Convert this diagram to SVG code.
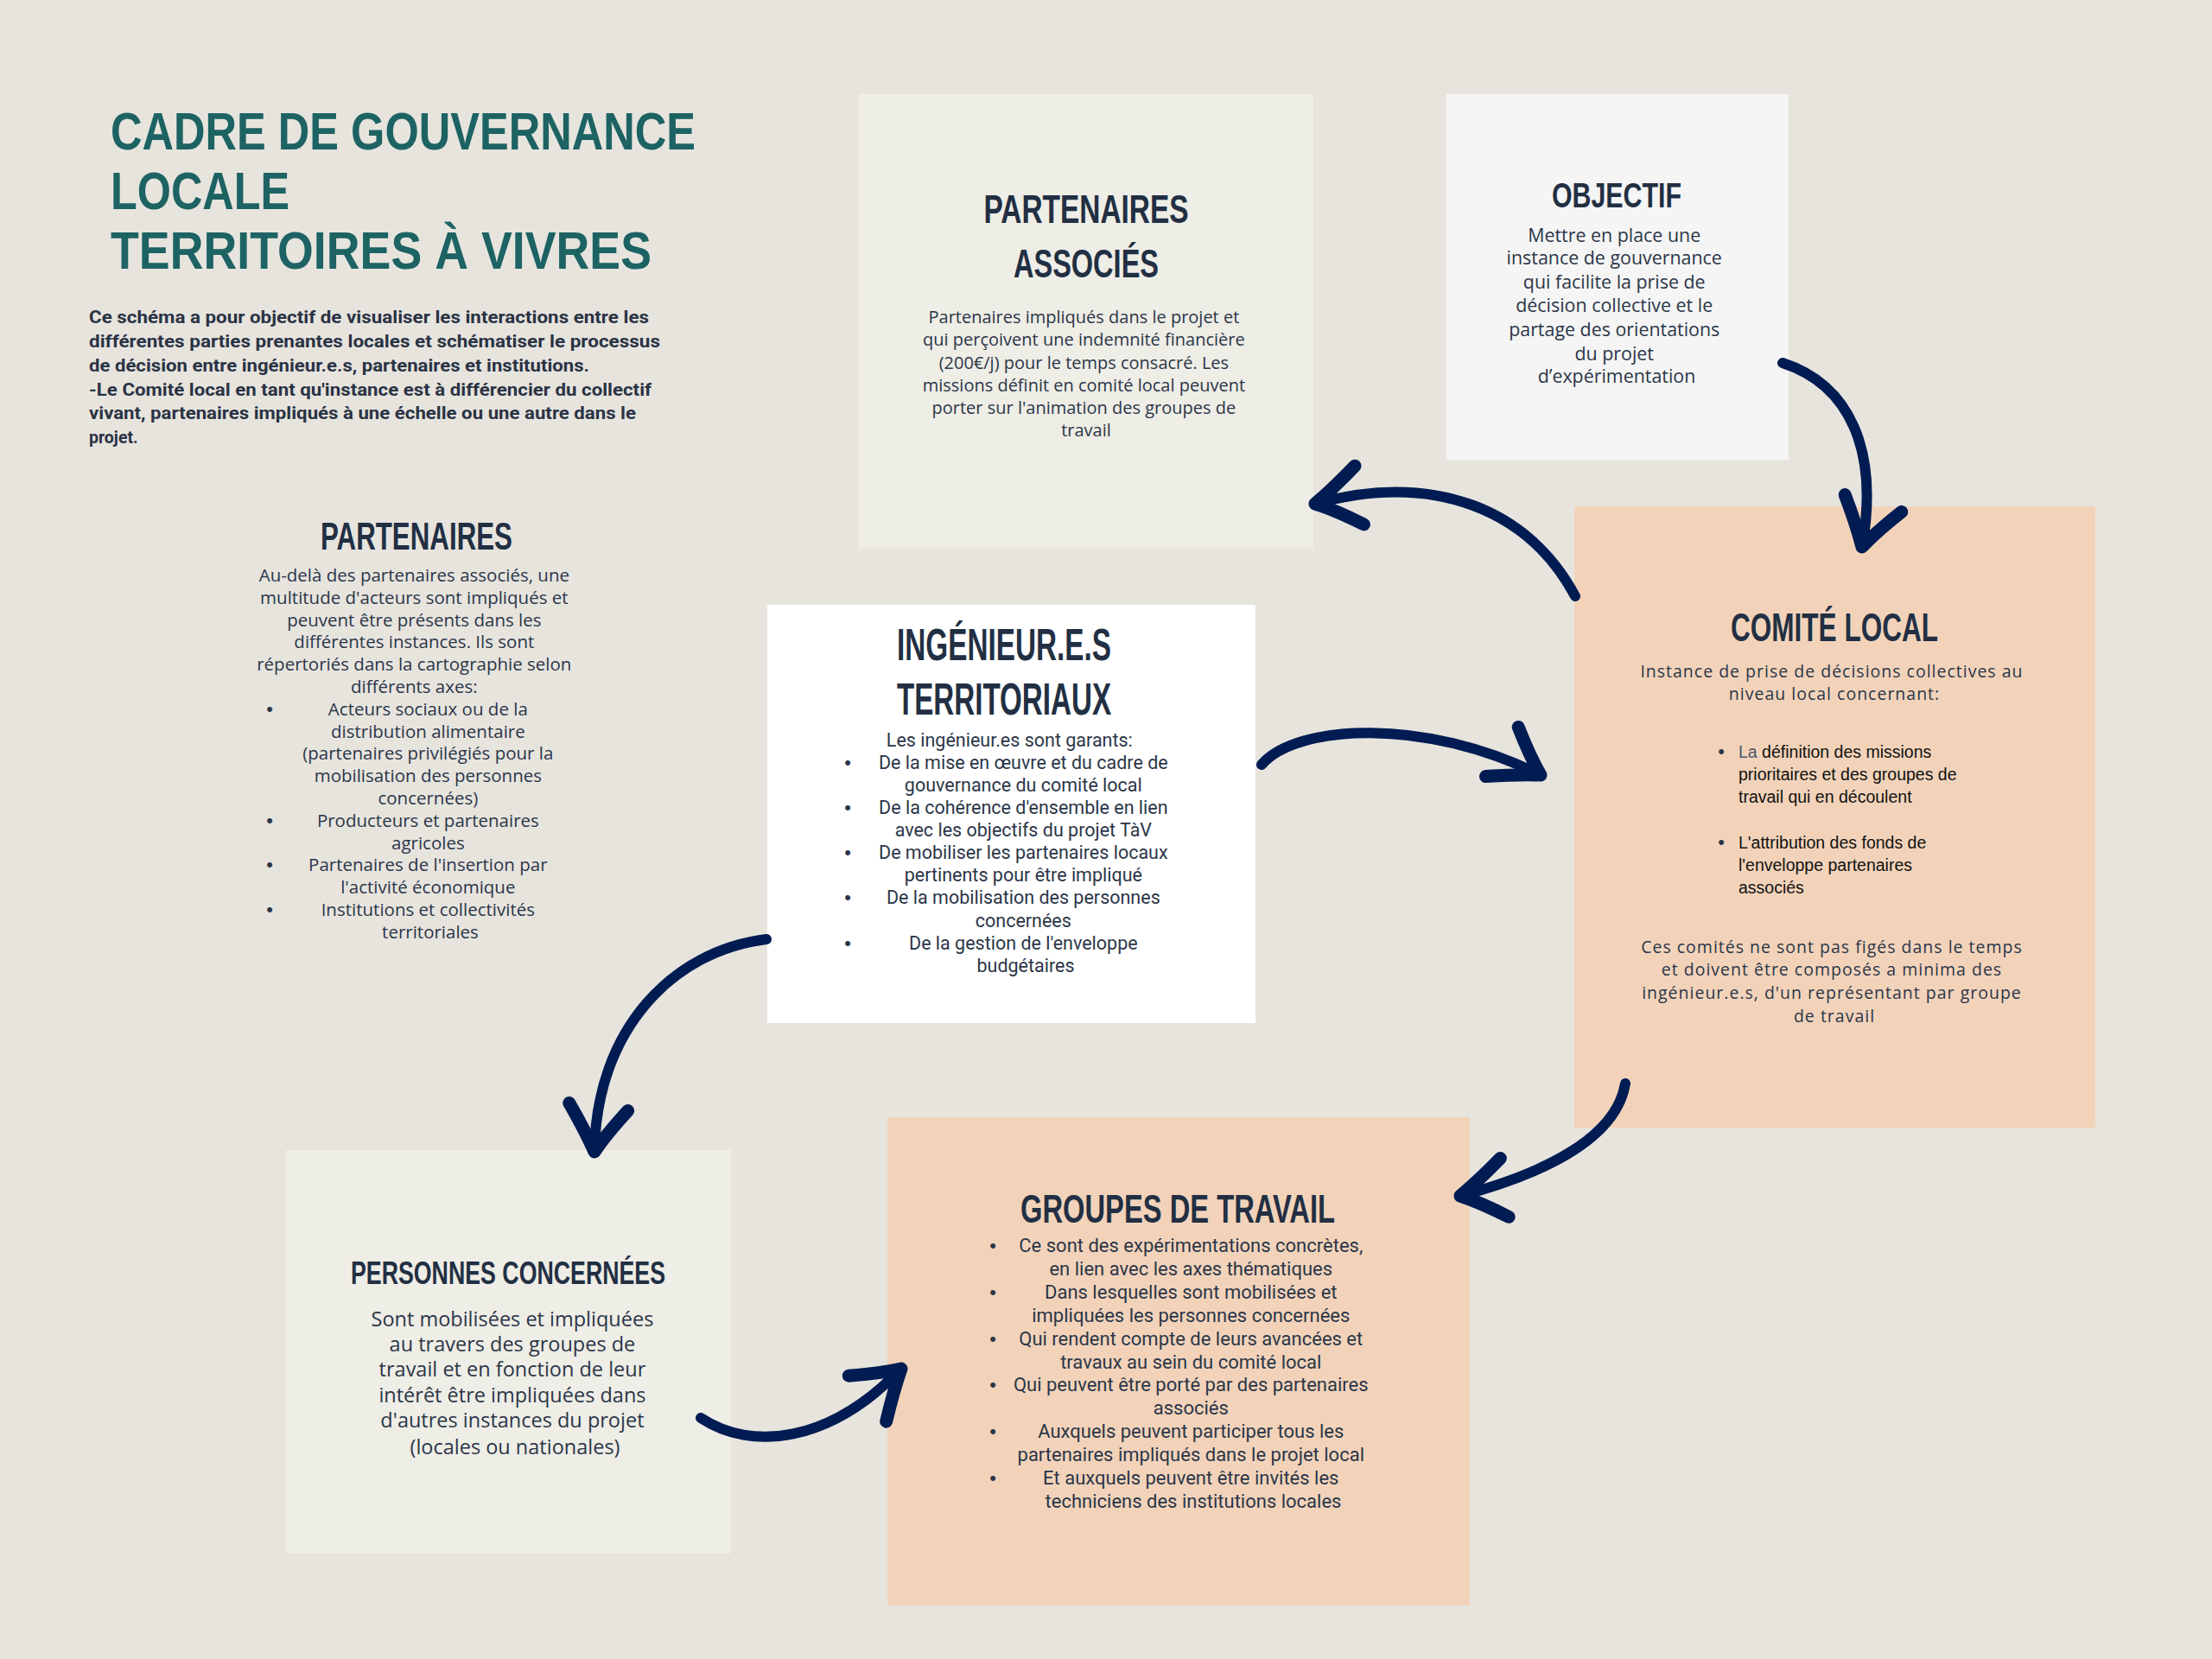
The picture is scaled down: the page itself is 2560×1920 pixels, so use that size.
<svg xmlns="http://www.w3.org/2000/svg" width="2560" height="1920" viewBox="0 0 2560 1920">
<defs>
<style>
.h{font-family:"Liberation Sans",Arial,sans-serif;font-weight:700;fill:#222f43;text-anchor:middle}
.t{font-family:"Liberation Sans",Arial,sans-serif;font-weight:700;fill:#1d6363;font-size:62px}
.intro{font-family:Roboto,"Liberation Sans",sans-serif;font-weight:700;font-size:19.5px;fill:#2a3344}
.b{font-family:"Open Sans","Noto Sans",sans-serif;fill:#2b3648;text-anchor:middle}
.r{font-family:Roboto,"Liberation Sans",sans-serif;fill:#2b3648;text-anchor:middle}
.a{font-family:"Liberation Sans",Arial,sans-serif;fill:#111111;font-size:19.5px}
.dot{font-family:"Liberation Sans",Arial,sans-serif;fill:#2b3648;font-size:22px;text-anchor:middle}
.arr{fill:none;stroke:#001c52;stroke-width:12;stroke-linecap:round}
</style>
<marker id="head" markerUnits="userSpaceOnUse" viewBox="-90 -70 110 140" refX="0" refY="0" markerWidth="110" markerHeight="140" orient="auto" overflow="visible">
<path d="M-48,-38 Q-20,-13 0,0 Q-24,11 -56,30" fill="none" stroke="#001c52" stroke-width="15" stroke-linecap="round" stroke-linejoin="round"/>
</marker>
</defs>
<rect x="0" y="0" width="2560" height="1920" fill="#e7e4de"/>

<g id="title">
<text class="t" x="128" y="173" textLength="677" lengthAdjust="spacingAndGlyphs">CADRE DE GOUVERNANCE</text>
<text class="t" x="128" y="242" textLength="207" lengthAdjust="spacingAndGlyphs">LOCALE</text>
<text class="t" x="128" y="311" textLength="626" lengthAdjust="spacingAndGlyphs">TERRITOIRES À VIVRES</text>
</g>

<g id="intro">
<text class="intro" x="103" y="374" textLength="648" lengthAdjust="spacingAndGlyphs">Ce schéma a pour objectif de visualiser les interactions entre les</text>
<text class="intro" x="103" y="402" textLength="661" lengthAdjust="spacingAndGlyphs">différentes parties prenantes locales et schématiser le processus</text>
<text class="intro" x="103" y="430" textLength="579" lengthAdjust="spacingAndGlyphs">de décision entre ingénieur.e.s, partenaires et institutions.</text>
<text class="intro" x="103" y="458" textLength="651" lengthAdjust="spacingAndGlyphs">-Le Comité local en tant qu'instance est à différencier du collectif</text>
<text class="intro" x="103" y="485" textLength="633" lengthAdjust="spacingAndGlyphs">vivant, partenaires impliqués à une échelle ou une autre dans le</text>
<text class="intro" x="103" y="513">projet.</text>
</g>

<g id="partenaires-associes">
<rect x="994" y="109" width="526" height="526" fill="#eeede6"/>
<text class="h" x="1257" y="258" font-size="46" textLength="237" lengthAdjust="spacingAndGlyphs">PARTENAIRES</text>
<text class="h" x="1257" y="321" font-size="46" textLength="168" lengthAdjust="spacingAndGlyphs">ASSOCIÉS</text>
<text class="b" font-size="20">
<tspan x="1257" y="374">Partenaires impliqués dans le projet et</tspan>
<tspan x="1257" y="400">qui perçoivent une indemnité financière</tspan>
<tspan x="1257" y="427">(200€/j) pour le temps consacré. Les</tspan>
<tspan x="1257" y="453">missions définit en comité local peuvent</tspan>
<tspan x="1257" y="479">porter sur l'animation des groupes de</tspan>
<tspan x="1257" y="505">travail</tspan>
</text>
</g>

<g id="objectif">
<rect x="1674" y="109" width="396" height="423" fill="#f5f5f5"/>
<text class="h" x="1871" y="240" font-size="40" textLength="150" lengthAdjust="spacingAndGlyphs">OBJECTIF</text>
<text class="b" font-size="21.4">
<tspan x="1871" y="280">Mettre en place une</tspan>
<tspan x="1871" y="306">instance de gouvernance</tspan>
<tspan x="1871" y="334">qui facilite la prise de</tspan>
<tspan x="1871" y="361">décision collective et le</tspan>
<tspan x="1871" y="389">partage des orientations</tspan>
<tspan x="1871" y="417">du projet</tspan>
<tspan x="1871" y="443">d’expérimentation</tspan>
</text>
</g>

<g id="comite-local">
<rect x="1822" y="586" width="603" height="719" fill="#f2d3ba"/>
<text class="h" x="2123" y="742" font-size="46" textLength="240" lengthAdjust="spacingAndGlyphs">COMITÉ LOCAL</text>
<text class="b" font-size="19.5" letter-spacing="1">
<tspan x="2123" y="784">Instance de prise de décisions collectives au</tspan>
<tspan x="2123" y="810">niveau local concernant:</tspan>
</text>
<text class="dot" x="1992" y="877">•</text>
<text class="a">
<tspan x="2012" y="877"><tspan fill="#4a5568">La</tspan> définition des missions</tspan>
<tspan x="2012" y="903">prioritaires et des groupes de</tspan>
<tspan x="2012" y="929">travail qui en découlent</tspan>
</text>
<text class="dot" x="1992" y="982">•</text>
<text class="a">
<tspan x="2012" y="982">L'attribution des fonds de</tspan>
<tspan x="2012" y="1008">l'enveloppe partenaires</tspan>
<tspan x="2012" y="1034">associés</tspan>
</text>
<text class="b" font-size="19.5" letter-spacing="1">
<tspan x="2123" y="1103">Ces comités ne sont pas figés dans le temps</tspan>
<tspan x="2123" y="1129">et  doivent être composés a minima des</tspan>
<tspan x="2123" y="1156">ingénieur.e.s, d'un représentant par groupe</tspan>
<tspan x="2123" y="1183">de travail</tspan>
</text>
</g>

<g id="partenaires">
<text class="h" x="482" y="636" font-size="44" textLength="222" lengthAdjust="spacingAndGlyphs">PARTENAIRES</text>
<text class="b" font-size="20.5">
<tspan x="482" y="673">Au-delà des partenaires associés, une</tspan>
<tspan x="482" y="699">multitude d'acteurs sont impliqués et</tspan>
<tspan x="482" y="725">peuvent être présents dans les</tspan>
<tspan x="482" y="750">différentes instances. Ils sont</tspan>
<tspan x="482" y="776">répertoriés dans la cartographie selon</tspan>
<tspan x="482" y="802">différents axes:</tspan>
<tspan x="498" y="828">Acteurs sociaux ou de la</tspan>
<tspan x="498" y="854">distribution alimentaire</tspan>
<tspan x="498" y="879">(partenaires privilégiés pour la</tspan>
<tspan x="498" y="905">mobilisation des personnes</tspan>
<tspan x="498" y="931">concernées)</tspan>
<tspan x="498" y="957">Producteurs et partenaires</tspan>
<tspan x="498" y="983">agricoles</tspan>
<tspan x="498" y="1008">Partenaires de l'insertion par</tspan>
<tspan x="498" y="1034">l'activité économique</tspan>
<tspan x="498" y="1060">Institutions et collectivités</tspan>
<tspan x="498" y="1086">territoriales</tspan>
</text>
<text class="dot" x="312" y="828">•</text>
<text class="dot" x="312" y="957">•</text>
<text class="dot" x="312" y="1008">•</text>
<text class="dot" x="312" y="1060">•</text>
</g>

<g id="ingenieurs">
<rect x="888" y="700" width="565" height="484" fill="#ffffff"/>
<text class="h" x="1162" y="764" font-size="52" textLength="248" lengthAdjust="spacingAndGlyphs">INGÉNIEUR.E.S</text>
<text class="h" x="1162" y="827" font-size="52" textLength="248" lengthAdjust="spacingAndGlyphs">TERRITORIAUX</text>
<text class="r" font-size="21.5">
<tspan x="1171" y="864">Les ingénieur.es sont garants:</tspan>
<tspan x="1187" y="890">De la mise en œuvre et du cadre de</tspan>
<tspan x="1187" y="916">gouvernance du comité local</tspan>
<tspan x="1187" y="942">De la cohérence d'ensemble en lien</tspan>
<tspan x="1187" y="968">avec les objectifs du projet TàV</tspan>
<tspan x="1187" y="994">De mobiliser les partenaires locaux</tspan>
<tspan x="1187" y="1020">pertinents pour être impliqué</tspan>
<tspan x="1187" y="1046">De la mobilisation des personnes</tspan>
<tspan x="1187" y="1073">concernées</tspan>
<tspan x="1187" y="1099">De la gestion de l'enveloppe</tspan>
<tspan x="1187" y="1125">budgétaires</tspan>
</text>
<text class="dot" x="981" y="890">•</text>
<text class="dot" x="981" y="942">•</text>
<text class="dot" x="981" y="994">•</text>
<text class="dot" x="981" y="1046">•</text>
<text class="dot" x="981" y="1099">•</text>
</g>

<g id="personnes-concernees">
<rect x="331" y="1331" width="515" height="467" fill="#eeede6"/>
<text class="h" x="588" y="1486" font-size="37" textLength="364" lengthAdjust="spacingAndGlyphs">PERSONNES CONCERNÉES</text>
<text class="b" font-size="23.5">
<tspan x="596" y="1535">Sont mobilisées et impliquées</tspan>
<tspan x="596" y="1564">au travers des groupes de</tspan>
<tspan x="596" y="1593">travail et en fonction de leur</tspan>
<tspan x="596" y="1623">intérêt être impliquées dans</tspan>
<tspan x="596" y="1652">d'autres instances du projet</tspan>
<tspan x="596" y="1683">(locales ou nationales)</tspan>
</text>
</g>

<g id="groupes-de-travail">
<rect x="1027" y="1293" width="674" height="565" fill="#f2d3ba"/>
<text class="h" x="1363" y="1415" font-size="46" textLength="364" lengthAdjust="spacingAndGlyphs">GROUPES DE TRAVAIL</text>
<text class="r" font-size="22">
<tspan x="1381" y="1449">Ce sont des expérimentations concrètes,</tspan>
<tspan x="1381" y="1476">en lien avec les axes thématiques</tspan>
<tspan x="1381" y="1503">Dans lesquelles sont mobilisées et</tspan>
<tspan x="1381" y="1530">impliquées les personnes concernées</tspan>
<tspan x="1381" y="1557">Qui rendent compte de leurs avancées et</tspan>
<tspan x="1381" y="1584">travaux au sein du comité local</tspan>
<tspan x="1381" y="1610">Qui peuvent être porté par des partenaires</tspan>
<tspan x="1381" y="1637">associés</tspan>
<tspan x="1381" y="1664">Auxquels peuvent participer tous les</tspan>
<tspan x="1381" y="1691">partenaires impliqués dans le projet local</tspan>
<tspan x="1381" y="1718">Et auxquels peuvent être invités les</tspan>
<tspan x="1381" y="1745">techniciens des institutions locales</tspan>
</text>
<text class="dot" x="1149" y="1449">•</text>
<text class="dot" x="1149" y="1503">•</text>
<text class="dot" x="1149" y="1557">•</text>
<text class="dot" x="1149" y="1610">•</text>
<text class="dot" x="1149" y="1664">•</text>
<text class="dot" x="1149" y="1718">•</text>
</g>

<g id="connectors">
<path class="arr" d="M1823,690 C1770,590 1660,545 1522,583" marker-end="url(#head)"/>
<path class="arr" d="M2063,420 C2140,445 2175,520 2155,633" marker-end="url(#head)"/>
<path class="arr" d="M1460,885 C1500,838 1650,830 1783,897" stroke-width="16" marker-end="url(#head)"/>
<path class="arr" d="M887,1087 C780,1100 690,1190 688,1333" marker-end="url(#head)"/>
<path class="arr" d="M1881,1254 C1870,1320 1780,1360 1690,1384" marker-end="url(#head)"/>
<path class="arr" d="M811,1641 C870,1680 960,1670 1043,1584" marker-end="url(#head)"/>
</g>
</svg>
